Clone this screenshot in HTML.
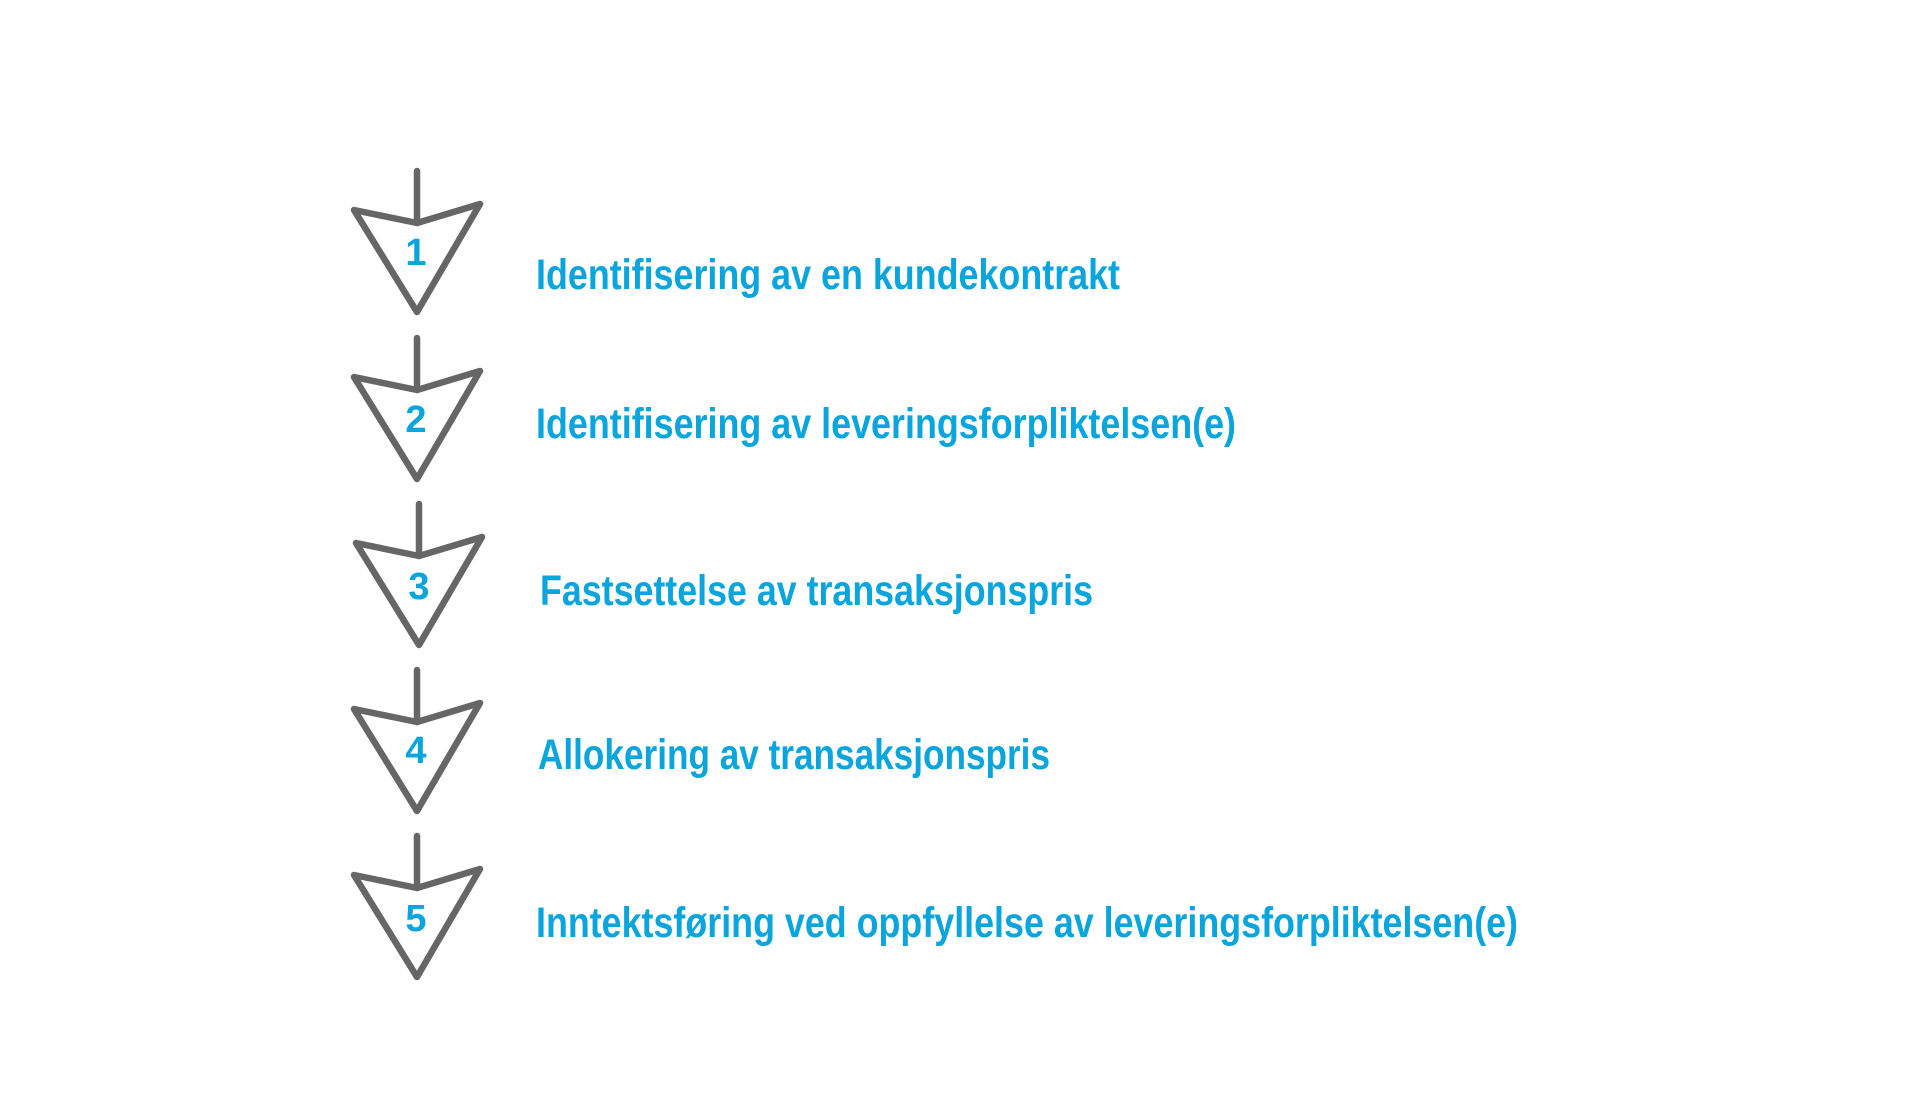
<!DOCTYPE html>
<html><head><meta charset="utf-8"><style>html,body{margin:0;padding:0;background:#fff}svg{display:block}</style></head>
<body>
<svg width="1920" height="1120" viewBox="0 0 1920 1120" xmlns="http://www.w3.org/2000/svg">
<defs>
<g id="arr" fill="none" stroke="#666667" stroke-width="6.5" stroke-linecap="round" stroke-linejoin="round">
<line x1="0" y1="0" x2="0" y2="52"/>
<polygon points="-63,39 0,52 63,33 0,141"/>
</g>
</defs>
<use href="#arr" x="417" y="171"/>
<use href="#arr" x="417" y="338"/>
<use href="#arr" x="419" y="504"/>
<use href="#arr" x="417" y="670"/>
<use href="#arr" x="417" y="836"/>
<g font-family="Liberation Sans, sans-serif" font-weight="bold" fill="#0aa5dd" font-size="38" text-anchor="middle">
<text x="416" y="265">1</text>
<text x="416" y="432">2</text>
<text x="419" y="599">3</text>
<text x="416" y="763">4</text>
<text x="416" y="931">5</text>
</g>
<g font-family="Liberation Sans, sans-serif" font-weight="bold" fill="#0aa5dd" font-size="43">
<text x="536" y="289" textLength="584" lengthAdjust="spacingAndGlyphs">Identifisering av en kundekontrakt</text>
<text x="536" y="438" textLength="700" lengthAdjust="spacingAndGlyphs">Identifisering av leveringsforpliktelsen(e)</text>
<text x="540" y="605" textLength="553" lengthAdjust="spacingAndGlyphs">Fastsettelse av transaksjonspris</text>
<text x="538" y="769" textLength="512" lengthAdjust="spacingAndGlyphs">Allokering av transaksjonspris</text>
<text x="536" y="937" textLength="982" lengthAdjust="spacingAndGlyphs">Inntektsføring ved oppfyllelse av leveringsforpliktelsen(e)</text>
</g>
</svg>
</body></html>
